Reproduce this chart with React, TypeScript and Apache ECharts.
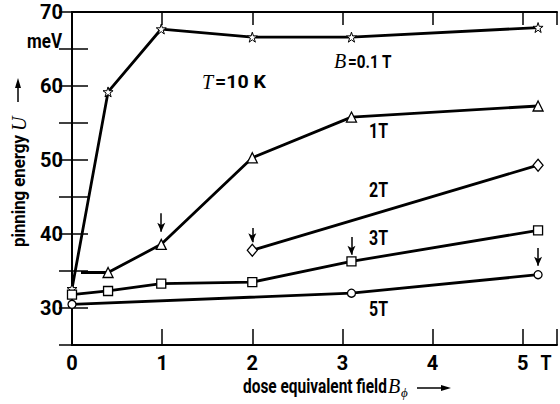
import React, { useEffect, useRef } from "react";
import * as echarts from "echarts";

// ---- data ----
const xTicks = [0, 1, 2, 3, 4, 5];
const yTickLabels = [30, 40, 50, 60, 70];

const starX = [0, 0.4, 0.99, 2.0, 3.1, 5.17];
const starU = [32.6, 59.2, 67.7, 66.6, 66.6, 67.9];

const triX = [0.1, 0.4, 0.99, 2.0, 3.1, 5.17];
const triU = [34.8, 34.8, 38.6, 50.3, 55.8, 57.3];

const diaX = [2.0, 5.17];
const diaU = [37.8, 49.3];

const sqX = [0, 0.4, 0.99, 2.0, 3.1, 5.17];
const sqU = [31.8, 32.3, 33.3, 33.5, 36.3, 40.5];

const circX = [0, 3.1, 5.17];
const circU = [30.5, 32.0, 34.5];

const arrowX = [0.99, 2.0, 3.1, 5.17];
const arrowTop = [42.8, 40.8, 39.6, 38.1];
const arrowTip = [40.3, 38.9, 37.2, 35.7];

const SANS = 'Roboto, "Liberation Sans", Arial, sans-serif';
const SERIF = '"Liberation Serif", "DejaVu Serif", serif';
const STAR =
  "path://M50,0 L61.8,35.4 L100,35.4 L69.1,57.3 L80.9,93.1 L50,71.2 L19.1,93.1 L30.9,57.3 L0,35.4 L38.2,35.4 Z";

const pairs = (xs: number[], ys: number[]) => xs.map((x, i) => [x, ys[i]]);

let ctx: CanvasRenderingContext2D | null = null;
function measure(text: string, font: string): number {
  if (!ctx) ctx = document.createElement("canvas").getContext("2d");
  if (!ctx) return text.length * 8;
  ctx.font = font;
  return ctx.measureText(text).width;
}

// plain text squeezed to a target width (imitates the condensed typeface)
function fitText(text: string, font: string, x: number, y: number, w: number, align: string, extra: any = {}) {
  const sx = w / measure(text, font);
  return {
    type: "text",
    x,
    y,
    scaleX: sx,
    ...extra,
    style: { text, font, fill: "#000", align, verticalAlign: "middle" },
  };
}

export default function App() {
  const ref = useRef<HTMLDivElement>(null);
  useEffect(() => {
    if (!ref.current) return;
    const chart = echarts.init(ref.current, null, { renderer: "svg" });
    const lineStyle = { color: "#000", width: 2.8 };
    const itemStyle = { color: "#fff", borderColor: "#000", borderWidth: 1.3 };
    const axisCommon = {
      type: "value" as const,
      splitLine: { show: false },
      axisLine: { show: true, lineStyle: { color: "#000", width: 2 } },
    };
    const tickFont = { color: "#000", fontFamily: SANS, fontWeight: "bold", fontSize: 20, margin: 8 };
    const smallFont = `bold 19px ${SANS}`;
    const curveFont = `bold 21px ${SANS}`;

    const curveLabels: [string, number][] = [
      ["1T", 131],
      ["2T", 190],
      ["3T", 238],
      ["5T", 309],
    ];

    const option: any = {
      animation: false,
      backgroundColor: "#fff",
      grid: { left: 72, top: 12, width: 490, height: 333 },
      xAxis: [
        {
          ...axisCommon,
          min: 0,
          max: 5.38,
          interval: 1,
          position: "bottom",
          axisTick: { inside: true, length: 16, lineStyle: { color: "#000", width: 1.5 } },
          axisLabel: { ...tickFont, formatter: (v: number) => (xTicks.includes(v) ? String(v) : "") },
        },
        {
          ...axisCommon,
          min: 0,
          max: 5.38,
          interval: 1,
          position: "top",
          axisTick: { inside: true, length: 13, lineStyle: { color: "#000", width: 1.5 } },
          axisLabel: { show: false },
        },
      ],
      yAxis: [
        {
          ...axisCommon,
          min: 25,
          max: 70,
          interval: 5,
          position: "left",
          axisTick: { inside: true, length: 16, lineStyle: { color: "#000", width: 1.5 } },
          axisLabel: { ...tickFont, margin: 9, formatter: (v: number) => (yTickLabels.includes(v) ? String(v) : "") },
        },
        {
          ...axisCommon,
          min: 25,
          max: 70,
          interval: 5,
          position: "right",
          axisTick: { inside: true, length: 13, lineStyle: { color: "#000", width: 1.5 } },
          axisLabel: { show: false },
        },
      ],
      series: [
        { type: "line", data: pairs(starX, starU), symbol: STAR, symbolSize: 10, lineStyle, itemStyle: { ...itemStyle, borderWidth: 1 } },
        {
          type: "line",
          data: pairs(triX, triU).map((p, i) => (i === 0 ? { value: p, symbol: "none" } : { value: p })),
          symbol: "triangle",
          symbolSize: 10,
          lineStyle,
          itemStyle,
        },
        { type: "line", data: pairs(diaX, diaU), symbol: "diamond", symbolSize: [10, 12], lineStyle, itemStyle },
        { type: "line", data: pairs(sqX, sqU), symbol: "rect", symbolSize: 9, lineStyle, itemStyle },
        {
          type: "line",
          data: pairs(circX, circU),
          symbol: "circle",
          symbolSize: 8,
          lineStyle,
          itemStyle,
          markLine: {
            silent: true,
            symbol: ["none", "arrow"],
            symbolSize: [6, 9],
            label: { show: false },
            lineStyle: { color: "#000", width: 1.5, type: "solid" },
            data: arrowX.map((x, i) => [{ coord: [x, arrowTop[i]] }, { coord: [x, arrowTip[i]] }]),
          },
        },
      ],
      graphic: [
        fitText("meV", `bold 20px ${SANS}`, 62, 42, 35, "right"),
        fitText("T", `bold 20px ${SANS}`, 546, 363, 11, "center"),
        // x axis name
        fitText("dose equivalent field", `bold 20px ${SANS}`, 243, 386, 144, "left"),
        { type: "text", x: 388, y: 386, style: { text: "B", font: `italic 20px ${SERIF}`, fill: "#000", align: "left", verticalAlign: "middle" } },
        { type: "text", x: 401, y: 392, style: { text: "ϕ", font: `italic 13px ${SERIF}`, fill: "#000", align: "left", verticalAlign: "middle" } },
        { type: "line", shape: { x1: 417, y1: 388, x2: 442, y2: 388 }, style: { stroke: "#000", lineWidth: 1.5 } },
        { type: "polygon", shape: { points: [[441, 385], [451, 388], [441, 391]] }, style: { fill: "#000" } },
        // y axis name (rotated, reads bottom to top)
        fitText("pinning energy", `bold 18px ${SANS}`, 19, 247, 112, "left", { rotation: Math.PI / 2 }),
        { type: "text", x: 19, y: 131, rotation: Math.PI / 2, style: { text: "U", font: `italic 20px ${SERIF}`, fill: "#000", align: "left", verticalAlign: "middle" } },
        { type: "line", shape: { x1: 18, y1: 102, x2: 18, y2: 86 }, style: { stroke: "#000", lineWidth: 1.5 } },
        { type: "polygon", shape: { points: [[15, 88], [18, 78], [21, 88]] }, style: { fill: "#000" } },
        // T = 10 K
        { type: "text", x: 202, y: 82, style: { text: "T", font: `italic 20px ${SERIF}`, fill: "#000", align: "left", verticalAlign: "middle" } },
        fitText("=10 K", smallFont, 215, 82, 51, "left"),
        // B = 0.1 T
        { type: "text", x: 334, y: 61, style: { text: "B", font: `italic 20px ${SERIF}`, fill: "#000", align: "left", verticalAlign: "middle" } },
        fitText("=0.1 T", smallFont, 348, 61, 44, "left"),
        ...curveLabels.map(([t, y]) => fitText(t, curveFont, 369, y, 19, "left")),
      ],
    };
    chart.setOption(option);
    return () => chart.dispose();
  }, []);
  return <div ref={ref} style={{ position: "fixed", left: 0, top: 0, width: 560, height: 404, background: "#fff" }} />;
}
